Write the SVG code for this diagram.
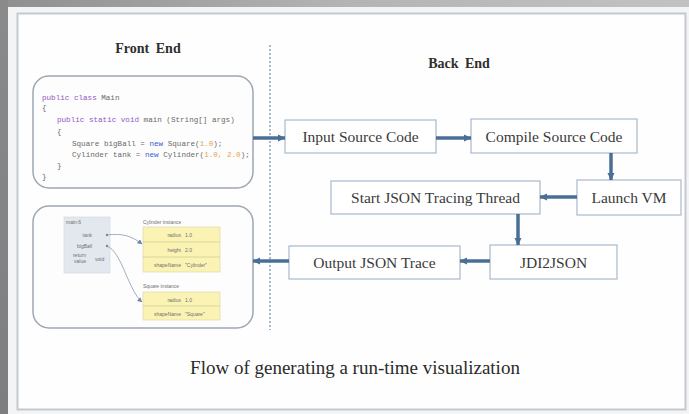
<svg xmlns="http://www.w3.org/2000/svg" width="689" height="414" viewBox="0 0 689 414">
  <defs>
    <linearGradient id="bandTop" x1="0" y1="0" x2="1" y2="0">
      <stop offset="0" stop-color="#8f8f8f"/>
      <stop offset="0.5" stop-color="#b4b4b4"/>
      <stop offset="1" stop-color="#c2c2c2"/>
    </linearGradient>
    <linearGradient id="bandLeft" x1="0" y1="0" x2="0" y2="1">
      <stop offset="0" stop-color="#8a8a8a"/>
      <stop offset="1" stop-color="#7e7e7e"/>
    </linearGradient>
    <marker id="head" markerUnits="userSpaceOnUse" markerWidth="8" markerHeight="8" refX="7" refY="4" orient="auto">
      <path d="M0,0.5 L7.5,4 L0,7.5 z" fill="#4a6f95"/>
    </marker>
    <marker id="ptr" markerUnits="userSpaceOnUse" markerWidth="5" markerHeight="5" refX="4.5" refY="2.5" orient="auto">
      <path d="M0,0 L5,2.5 L0,5 z" fill="#6f86a6"/>
    </marker>
    <style>
      .step { fill: #ffffff; stroke: #a9b9cf; stroke-width: 1.2; }
      .label { font-family: "Liberation Serif", "Times New Roman", serif; font-size: 15.5px; fill: #3a3a3a; text-anchor: middle; }
      .head { font-family: "Liberation Serif", "Times New Roman", serif; font-size: 14px; font-weight: bold; fill: #2e2e2e; text-anchor: middle; word-spacing: 3px; }
      .panel { fill: #fdfdfd; stroke: #9ea7b2; stroke-width: 1.5; }
      .flow { stroke: #4a6f95; stroke-width: 3.5; fill: none; marker-end: url(#head); }
      .code { font-family: "Liberation Mono", "Courier New", monospace; font-size: 7.6px; fill: #6a6a6a; }
      .kw { fill: #9257c8; }
      .nw { fill: #3b5bd0; }
      .num { fill: #e8a04a; }
      .viz { font-family: "Liberation Sans", Arial, sans-serif; font-size: 5px; fill: #707070; }
      .obj { fill: #fbf3b4; stroke: #d9d3a0; stroke-width: 0.6; }
      .sep { stroke: #c5cc8c; stroke-width: 0.7; }
    </style>
  </defs>

  <!-- backdrop -->
  <rect x="0" y="0" width="689" height="414" fill="#a9a9a9"/>
  <rect x="0" y="0" width="689" height="7" fill="url(#bandTop)"/>
  <rect x="0" y="0" width="8" height="414" fill="url(#bandLeft)"/>
  <rect x="8" y="7" width="681" height="407" fill="#f2f4f6"/>
  <rect x="17.5" y="13.5" width="668" height="396" fill="#fefefe" stroke="#c4c9d0" stroke-width="2"/>

  <!-- headings -->
  <text class="head" x="148" y="53">Front End</text>
  <text class="head" x="459" y="68">Back End</text>

  <!-- divider -->
  <line x1="270" y1="45" x2="270" y2="330" stroke="#4f72a8" stroke-width="1" stroke-dasharray="2 2"/>

  <!-- source code editor -->
  <g id="code-editor">
    <rect class="panel" x="33" y="76" width="220" height="112" rx="16"/>
    <text class="code" x="42" y="100"><tspan class="kw">public class</tspan> Main</text>
    <text class="code" x="42" y="110">{</text>
    <text class="code" x="57" y="122"><tspan class="kw">public static void</tspan> main (String[] args)</text>
    <text class="code" x="57" y="134">{</text>
    <text class="code" x="72" y="146">Square bigBall = <tspan class="nw">new</tspan> Square(<tspan class="num">1.0</tspan>);</text>
    <text class="code" x="72" y="157">Cylinder tank = <tspan class="nw">new</tspan> Cylinder(<tspan class="num">1.0, 2.0</tspan>);</text>
    <text class="code" x="57" y="168">}</text>
    <text class="code" x="42" y="179">}</text>
  </g>

  <!-- run-time visualization -->
  <g id="visualization">
    <rect class="panel" x="33" y="206" width="220" height="122" rx="16"/>
    <rect x="64" y="217" width="46" height="56" fill="#e3e7ee" stroke="#d2d7df" stroke-width="0.6"/>
    <text class="viz" x="66" y="224">main:6</text>
    <text class="viz" x="92" y="237" text-anchor="end">tank</text>
    <text class="viz" x="92" y="248" text-anchor="end">bigBall</text>
    <text class="viz" x="86" y="257" text-anchor="end" fill="#d05050">return</text>
    <text class="viz" x="86" y="263" text-anchor="end" fill="#d05050">value</text>
    <text class="viz" x="95" y="261">void</text>
    <circle cx="107" cy="235" r="1.2" fill="#6f86a6"/>
    <circle cx="107" cy="246" r="1.2" fill="#6f86a6"/>
    <path d="M107,235 C122,233 132,236 142,244" fill="none" stroke="#8799b2" stroke-width="0.8" marker-end="url(#ptr)"/>
    <path d="M107,246 C122,252 128,290 142,302" fill="none" stroke="#8799b2" stroke-width="0.8" marker-end="url(#ptr)"/>

    <text class="viz" x="143" y="224">Cylinder instance</text>
    <rect class="obj" x="143" y="227" width="77" height="45"/>
    <line class="sep" x1="143" y1="242" x2="220" y2="242"/>
    <line class="sep" x1="143" y1="257" x2="220" y2="257"/>
    <text class="viz" x="181" y="237" text-anchor="end">radius</text>
    <text class="viz" x="185" y="237">1.0</text>
    <text class="viz" x="181" y="252" text-anchor="end">height</text>
    <text class="viz" x="185" y="252">2.0</text>
    <text class="viz" x="181" y="267" text-anchor="end">shapeName</text>
    <text class="viz" x="185" y="267">"Cylinder"</text>

    <text class="viz" x="143" y="288">Square instance</text>
    <rect class="obj" x="143" y="292" width="77" height="28"/>
    <line class="sep" x1="143" y1="306" x2="220" y2="306"/>
    <text class="viz" x="181" y="302" text-anchor="end">radius</text>
    <text class="viz" x="185" y="302">1.0</text>
    <text class="viz" x="181" y="316" text-anchor="end">shapeName</text>
    <text class="viz" x="185" y="316">"Square"</text>
  </g>

  <!-- back end steps -->
  <g id="input-source">
    <rect class="step" x="285" y="120" width="151" height="33"/>
    <text class="label" x="360.5" y="142">Input Source Code</text>
  </g>
  <g id="compile-source">
    <rect class="step" x="471" y="119" width="166" height="34"/>
    <text class="label" x="554" y="141.5">Compile Source Code</text>
  </g>
  <g id="launch-vm">
    <rect class="step" x="577" y="180" width="104" height="35"/>
    <text class="label" x="629" y="203">Launch VM</text>
  </g>
  <g id="start-tracing">
    <rect class="step" x="331" y="181" width="209" height="33"/>
    <text class="label" x="435.5" y="203">Start JSON Tracing Thread</text>
  </g>
  <g id="jdi2json">
    <rect class="step" x="490" y="245" width="127" height="34"/>
    <text class="label" x="553.5" y="267.5">JDI2JSON</text>
  </g>
  <g id="output-trace">
    <rect class="step" x="289" y="246" width="171" height="33"/>
    <text class="label" x="374.5" y="268">Output JSON Trace</text>
  </g>

  <!-- connectors -->
  <g id="connectors">
    <line class="flow" x1="253" y1="138" x2="285" y2="138"/>
    <line class="flow" x1="436" y1="138" x2="471" y2="138"/>
    <line class="flow" x1="611" y1="153" x2="611" y2="180"/>
    <line class="flow" x1="577" y1="197" x2="540" y2="197"/>
    <line class="flow" x1="518" y1="214" x2="518" y2="245"/>
    <line class="flow" x1="490" y1="261" x2="460" y2="261"/>
    <line class="flow" x1="289" y1="261" x2="253" y2="261"/>
  </g>

  <!-- caption -->
  <text x="355" y="374" font-family="Liberation Serif, Times New Roman, serif" font-size="19" fill="#2a2a2a" text-anchor="middle">Flow of generating a run-time visualization</text>
</svg>
